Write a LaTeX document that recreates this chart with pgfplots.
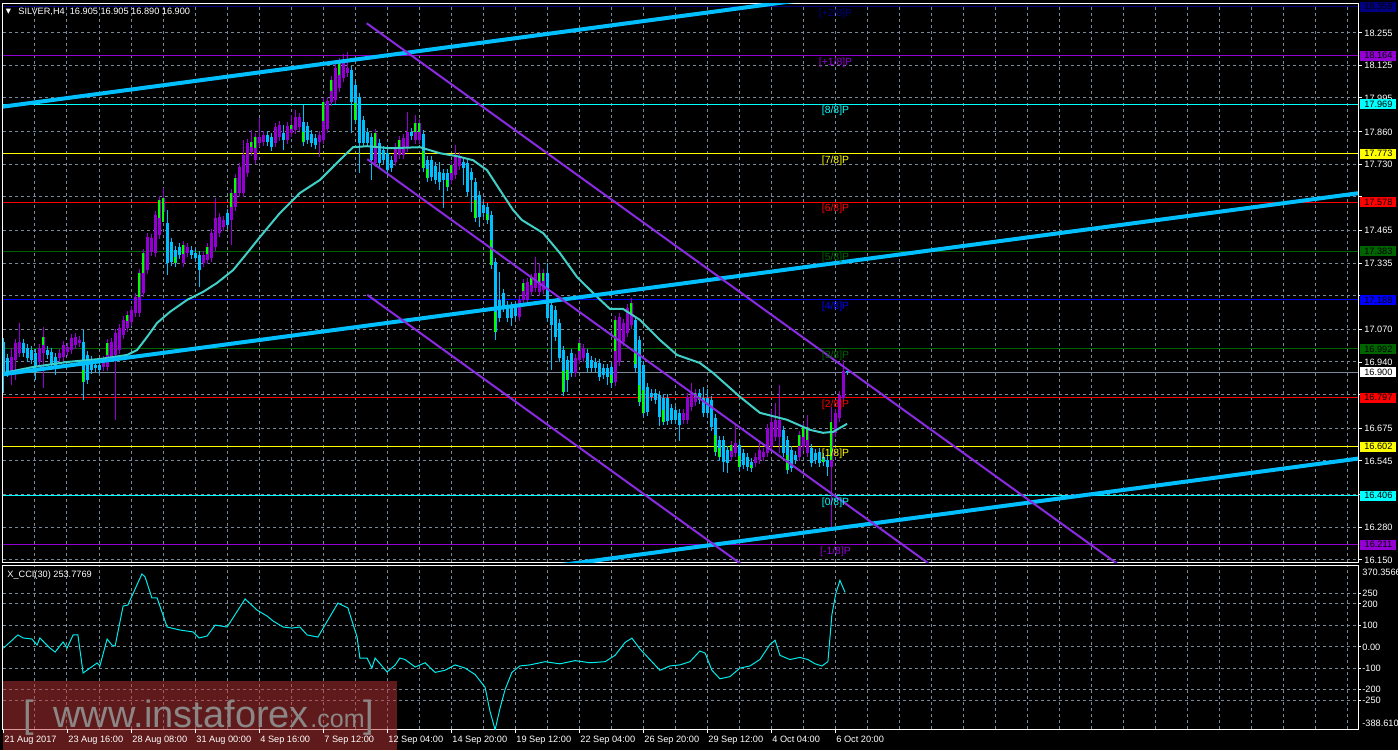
\documentclass[border=0pt]{standalone}
\usepackage{pgfplots}
\pgfplotsset{compat=1.18}
\usepackage{pgfplotstable}
\usepackage{fontspec}
\setmainfont{Liberation Sans}
\newfontfamily\dejavu{DejaVu Sans}

\definecolor{mtbull}{RGB}{148,0,211}
\definecolor{mtbear}{RGB}{0,191,255}
\definecolor{mtlime}{RGB}{0,255,0}
\definecolor{mtgrid}{RGB}{119,136,153}
\definecolor{mttrend}{RGB}{0,191,255}
\definecolor{mtchan}{RGB}{138,43,226}
\definecolor{mtma}{RGB}{64,208,200}
\definecolor{mtcci}{RGB}{0,235,235}
\definecolor{lnavy}{RGB}{0,0,128}
\definecolor{dviolet}{RGB}{148,0,211}
\definecolor{laqua}{RGB}{0,255,255}
\definecolor{lyellow}{RGB}{255,255,0}
\definecolor{lred}{RGB}{255,0,0}
\definecolor{lgreen}{RGB}{0,100,0}
\definecolor{lblue}{RGB}{0,0,255}
\definecolor{lgray}{RGB}{119,136,153}
\definecolor{wmred}{RGB}{190,55,55}
\definecolor{wmgray}{RGB}{140,134,134}

\newcommand\sm{\fontsize{4.6}{5.5}\selectfont}
\newcommand\lv{\fontsize{5.2}{6}\selectfont}

\pgfplotstableread{
b o h l c
0 17.020 17.036 16.816 16.896
1 16.956 16.972 16.880 16.896
2 16.900 16.996 16.848 16.960
3 16.948 17.032 16.868 17.016
4 16.976 17.096 16.960 17.020
5 17.016 17.032 16.960 16.976
6 16.996 17.012 16.940 16.956
7 16.988 17.004 16.932 16.948
8 16.976 16.992 16.868 16.920
9 16.940 17.012 16.924 16.996
10 16.976 17.080 16.836 17.040
11 16.988 17.004 16.952 16.968
12 16.980 16.996 16.912 16.928
13 16.960 16.976 16.888 16.920
14 16.956 16.992 16.940 16.976
15 16.960 17.024 16.944 17.008
16 16.980 17.016 16.964 17.000
17 16.988 17.052 16.972 17.036
18 17.008 17.056 16.992 17.040
19 17.016 17.044 17.000 17.028
20 17.020 17.068 16.788 16.860
21 16.968 16.984 16.852 16.868
22 16.948 16.964 16.892 16.908
23 16.928 16.944 16.900 16.916
24 16.928 16.944 16.892 16.908
25 16.920 16.964 16.904 16.948
26 16.920 17.032 16.904 17.016
27 16.960 17.036 16.944 17.020
28 16.968 17.072 16.708 17.056
29 16.988 17.092 16.972 17.076
30 17.048 17.124 17.032 17.108
31 17.076 17.144 17.060 17.128
32 17.100 17.164 17.084 17.148
33 17.136 17.216 17.120 17.200
34 17.136 17.311 17.120 17.295
35 17.216 17.391 17.200 17.375
36 17.307 17.455 17.291 17.439
37 17.379 17.451 17.363 17.435
38 17.375 17.543 17.359 17.527
39 17.447 17.603 17.431 17.587
40 17.539 17.635 17.523 17.595
41 17.495 17.547 17.287 17.335
42 17.419 17.435 17.323 17.339
43 17.387 17.403 17.319 17.335
44 17.399 17.415 17.351 17.367
45 17.335 17.423 17.319 17.407
46 17.375 17.415 17.359 17.399
47 17.387 17.403 17.351 17.367
48 17.375 17.391 17.343 17.355
49 17.367 17.383 17.239 17.307
50 17.335 17.383 17.319 17.367
51 17.347 17.415 17.331 17.399
52 17.355 17.471 17.339 17.455
53 17.399 17.595 17.383 17.515
54 17.455 17.535 17.439 17.519
55 17.479 17.523 17.463 17.507
56 17.535 17.551 17.471 17.487
57 17.507 17.631 17.407 17.615
58 17.559 17.691 17.543 17.675
59 17.615 17.735 17.599 17.719
60 17.615 17.827 17.599 17.767
61 17.695 17.831 17.679 17.815
62 17.779 17.867 17.763 17.819
63 17.747 17.855 17.731 17.839
64 17.815 17.914 17.799 17.839
65 17.819 17.863 17.803 17.847
66 17.847 17.863 17.803 17.819
67 17.839 17.855 17.782 17.798
68 17.815 17.895 17.798 17.878
69 17.838 17.902 17.822 17.886
70 17.854 17.886 17.786 17.826
71 17.826 17.898 17.810 17.882
72 17.854 17.926 17.838 17.886
73 17.866 17.946 17.850 17.918
74 17.878 17.934 17.862 17.918
75 17.898 17.966 17.802 17.818
76 17.882 17.898 17.810 17.826
77 17.850 17.866 17.798 17.814
78 17.834 17.850 17.790 17.806
79 17.818 17.862 17.758 17.846
80 17.826 17.994 17.810 17.978
81 17.870 17.998 17.854 17.982
82 17.978 18.082 17.962 18.066
83 17.986 18.138 17.970 18.114
84 18.034 18.154 18.018 18.138
85 18.074 18.170 18.058 18.146
86 18.094 18.178 18.078 18.114
87 18.106 18.122 17.854 17.978
88 18.046 18.062 17.890 17.906
89 17.998 18.014 17.694 17.814
90 17.906 17.922 17.798 17.814
91 17.858 17.874 17.798 17.814
92 17.838 17.854 17.666 17.746
93 17.734 17.870 17.718 17.854
94 17.814 17.830 17.718 17.734
95 17.786 17.802 17.730 17.746
96 17.774 17.790 17.690 17.706
97 17.746 17.762 17.698 17.714
98 17.738 17.814 17.722 17.798
99 17.766 17.842 17.750 17.826
100 17.766 17.850 17.750 17.834
101 17.794 17.938 17.778 17.858
102 17.858 17.874 17.826 17.842
103 17.826 17.926 17.810 17.894
104 17.826 17.910 17.810 17.894
105 17.850 17.866 17.698 17.714
106 17.746 17.762 17.658 17.674
107 17.746 17.762 17.662 17.678
108 17.722 17.738 17.650 17.666
109 17.698 17.738 17.626 17.658
110 17.694 17.710 17.555 17.666
111 17.694 17.710 17.622 17.638
112 17.666 17.742 17.650 17.726
113 17.686 17.806 17.670 17.766
114 17.722 17.778 17.706 17.762
115 17.738 17.754 17.646 17.714
116 17.734 17.750 17.603 17.619
117 17.698 17.714 17.539 17.666
118 17.658 17.674 17.499 17.515
119 17.607 17.623 17.479 17.519
120 17.567 17.583 17.519 17.535
121 17.559 17.575 17.491 17.507
122 17.527 17.543 17.311 17.327
123 17.339 17.355 17.028 17.060
124 17.188 17.299 17.100 17.116
125 17.216 17.232 17.140 17.156
126 17.168 17.184 17.100 17.116
127 17.164 17.180 17.084 17.116
128 17.164 17.180 17.108 17.124
129 17.120 17.204 17.104 17.188
130 17.188 17.271 17.172 17.255
131 17.188 17.275 17.172 17.259
132 17.220 17.291 17.204 17.275
133 17.236 17.359 17.220 17.295
134 17.220 17.335 17.204 17.295
135 17.228 17.311 17.212 17.295
136 17.295 17.335 17.100 17.116
137 17.168 17.184 16.908 17.088
138 17.148 17.164 17.024 17.040
139 17.096 17.112 16.940 16.956
140 16.988 17.004 16.804 16.820
141 16.948 16.964 16.820 16.868
142 16.976 16.992 16.880 16.896
143 16.896 16.972 16.880 16.956
144 16.948 17.032 16.932 17.016
145 16.956 17.012 16.940 16.996
146 16.976 16.992 16.900 16.916
147 16.948 16.964 16.900 16.916
148 16.940 16.956 16.900 16.916
149 16.936 16.952 16.864 16.880
150 16.916 16.932 16.872 16.888
151 16.916 16.932 16.848 16.880
152 16.920 16.936 16.836 16.856
153 16.860 17.124 16.844 17.108
154 16.940 17.136 16.924 17.120
155 17.020 17.112 17.004 17.096
156 17.056 17.172 17.040 17.156
157 17.088 17.196 17.072 17.176
158 17.108 17.124 16.900 16.916
159 17.028 17.044 16.765 16.781
160 16.928 16.944 16.721 16.737
161 16.840 16.856 16.725 16.741
162 16.816 16.832 16.785 16.800
163 16.816 16.832 16.773 16.789
164 16.808 16.824 16.685 16.721
165 16.797 16.812 16.689 16.701
166 16.797 16.812 16.689 16.705
167 16.757 16.773 16.693 16.709
168 16.749 16.765 16.693 16.709
169 16.737 16.753 16.625 16.689
170 16.709 16.753 16.693 16.737
171 16.709 16.817 16.693 16.801
172 16.761 16.857 16.745 16.817
173 16.781 16.832 16.765 16.817
174 16.817 16.832 16.773 16.789
175 16.797 16.840 16.721 16.737
176 16.797 16.832 16.721 16.737
177 16.789 16.805 16.665 16.681
178 16.717 16.733 16.565 16.581
179 16.629 16.645 16.545 16.561
180 16.629 16.645 16.501 16.541
181 16.589 16.605 16.497 16.537
182 16.561 16.625 16.545 16.609
183 16.577 16.689 16.561 16.617
184 16.609 16.625 16.505 16.521
185 16.577 16.593 16.513 16.529
186 16.561 16.577 16.505 16.521
187 16.541 16.557 16.501 16.517
188 16.537 16.577 16.521 16.561
189 16.549 16.621 16.533 16.589
190 16.561 16.597 16.545 16.581
191 16.577 16.693 16.561 16.677
192 16.601 16.749 16.585 16.701
193 16.641 16.777 16.625 16.709
194 16.641 16.849 16.577 16.709
195 16.669 16.685 16.561 16.577
196 16.629 16.645 16.493 16.509
197 16.589 16.605 16.501 16.517
198 16.569 16.585 16.533 16.549
199 16.561 16.665 16.545 16.649
200 16.601 16.697 16.585 16.681
201 16.577 16.729 16.561 16.681
202 16.597 16.613 16.521 16.537
203 16.577 16.593 16.533 16.549
204 16.581 16.597 16.521 16.537
205 16.561 16.577 16.525 16.541
206 16.549 16.565 16.485 16.521
207 16.521 16.761 16.282 16.657
208 16.657 16.753 16.641 16.737
209 16.717 16.824 16.701 16.808
210 16.797 16.948 16.781 16.905
211 16.905 16.905 16.890 16.900
}\candles

\pgfplotstableread{
b lo hi
10 17.008 17.040
20 16.860 16.910
26 16.968 17.016
31 17.102 17.128
34 17.200 17.295
35 17.296 17.375
39 17.517 17.587
40 17.500 17.595
43 17.335 17.361
45 17.371 17.407
51 17.373 17.399
57 17.561 17.615
58 17.617 17.675
62 17.799 17.819
63 17.793 17.839
72 17.870 17.886
75 17.818 17.858
80 17.902 17.978
82 18.022 18.066
84 18.086 18.138
88 17.906 17.976
93 17.794 17.854
99 17.796 17.826
103 17.860 17.894
104 17.860 17.894
105 17.714 17.782
106 17.674 17.710
111 17.638 17.666
112 17.696 17.726
118 17.515 17.587
121 17.507 17.533
122 17.327 17.427
123 17.060 17.140
130 17.222 17.255
132 17.248 17.275
134 17.258 17.295
135 17.262 17.295
140 16.820 16.904
141 16.868 16.908
144 16.982 17.016
152 16.856 16.888
153 16.984 17.108
157 17.132 17.176
158 16.930 16.980
159 16.781 16.850
160 16.737 16.830
165 16.701 16.749
173 16.799 16.817
174 16.789 16.803
178 16.581 16.649
179 16.561 16.595
182 16.585 16.609
184 16.521 16.565
187 16.517 16.529
196 16.509 16.569
199 16.605 16.649
200 16.641 16.681
201 16.629 16.681
205 16.541 16.551
207 16.550 16.700
}\limetab

\pgfplotstableread{
b v
-0.05 16.896
7.4 16.920
15.9 16.940
24.1 16.952
30.9 16.968
33.4 16.988
35.9 17.040
38.4 17.096
41.6 17.140
45.9 17.188
49.9 17.220
53.4 17.256
57.4 17.307
60.9 17.375
64.1 17.439
69.1 17.535
74.1 17.615
79.1 17.667
84.1 17.747
87.4 17.798
90.9 17.802
96.6 17.794
104.1 17.798
109.1 17.774
113.4 17.762
117.4 17.746
120.9 17.706
124.1 17.627
127.4 17.547
129.6 17.507
134.9 17.455
139.1 17.375
143.4 17.279
148.4 17.200
151.6 17.152
154.9 17.152
159.1 17.108
164.1 17.028
168.4 16.968
174.1 16.936
177.4 16.896
184.1 16.801
189.1 16.737
195.9 16.709
201.6 16.669
204.9 16.657
207.4 16.661
210.9 16.693
}\matab

\pgfplotstableread{
b v
-0.05 -7
3.6 55
4.9 41
7.1 36
8.4 8
9.1 41
11.6 -6
12.9 -25
14.9 22
15.9 -6
17.4 55
18.6 55
19.9 -123
23.4 -76
24.1 -90
25.9 36
27.1 8
27.9 3
29.9 190
31.1 195
34.6 340
35.4 326
37.1 228
38.4 228
40.9 92
44.1 78
47.4 69
48.9 41
50.9 50
52.9 101
55.9 92
60.4 223
63.4 171
65.9 143
67.4 120
69.9 92
72.1 87
74.1 92
75.9 55
78.6 45
83.6 204
86.1 181
88.4 45
89.1 -53
90.9 -53
92.1 -100
92.9 -53
95.9 -118
97.9 -86
99.1 -53
100.4 -60
102.9 -95
105.4 -75
107.9 -120
110.4 -110
112.9 -85
115.4 -100
117.9 -130
120.4 -190
121.6 -300
122.9 -388
124.1 -290
125.4 -200
127.1 -120
129.1 -90
131.6 -85
135.4 -70
139.1 -80
142.9 -65
146.6 -75
150.4 -70
152.9 -40
155.4 20
157.1 40
159.1 -10
161.6 -60
164.1 -110
166.6 -90
169.1 -85
171.6 -70
174.1 -20
175.4 -30
177.1 -110
179.1 -150
181.6 -140
184.1 -100
186.6 -90
189.1 -60
191.6 10
192.9 30
194.1 -40
196.6 -60
199.1 -50
201.1 -60
202.9 -80
204.6 -90
206.1 -70
207.1 150
208.1 250
209.1 310
210.4 254
}\ccitab

\pgfplotsset{
  mtaxis/.style={
    scale only axis, anchor=south west, width=677.5pt,
    xmin=-0.125, xmax=338.625,
    axis line style={white, line width=0.5pt},
    tick style={draw=none},
    xticklabels={}, yticklabels={},
    xmajorgrids, ymajorgrids,
    grid style={mtgrid, line width=0.5pt, dash pattern=on 1.5pt off 1.5pt},
    xtick={7.875,15.875,...,335.875},
  },
  candle/.style 2 args={draw=none, mark=none, forget plot,
    restrict expr to domain={\thisrow{c}-\thisrow{o}}{#1},
    error bars/.cd, y dir=both, y explicit, error mark=none,
    error bar style={draw=#2, solid, line width=0.5pt}},
  body/.style 2 args={draw=none, mark=none, forget plot,
    restrict expr to domain={\thisrow{c}-\thisrow{o}}{#1},
    error bars/.cd, y dir=both, y explicit, error mark=none,
    error bar style={draw=#2, solid, line width=1.5pt}},
}

\begin{document}
\begin{tikzpicture}[x=0.5pt,y=-0.5pt]
\fill[black] (0,0) rectangle (1398,750);

% ---------------- main price panel ----------------
\begin{axis}[mtaxis, at={(1.5pt,-281pt)}, height=279.5pt,
  ymin=16.141, ymax=18.374,
  ytick={18.255,18.125,17.995,17.860,17.730,17.600,17.465,17.335,17.205,17.070,16.940,16.810,16.675,16.545,16.410,16.280,16.150}]
% Murrey levels
\addplot[lnavy, line width=0.5pt] coordinates {(-0.125,18.359) (338.625,18.359)};
\addplot[dviolet, line width=0.5pt] coordinates {(-0.125,18.164) (338.625,18.164)};
\addplot[laqua, line width=0.5pt] coordinates {(-0.125,17.969) (338.625,17.969)};
\addplot[lyellow, line width=0.5pt] coordinates {(-0.125,17.773) (338.625,17.773)};
\addplot[lred, line width=0.5pt] coordinates {(-0.125,17.578) (338.625,17.578)};
\addplot[lgreen, line width=0.5pt] coordinates {(-0.125,17.383) (338.625,17.383)};
\addplot[lblue, line width=0.5pt] coordinates {(-0.125,17.188) (338.625,17.188)};
\addplot[lgreen, line width=0.5pt] coordinates {(-0.125,16.992) (338.625,16.992)};
\addplot[lgray, line width=0.5pt] coordinates {(-0.125,16.900) (338.625,16.900)};
\addplot[lred, line width=0.5pt] coordinates {(-0.125,16.797) (338.625,16.797)};
\addplot[lyellow, line width=0.5pt] coordinates {(-0.125,16.602) (338.625,16.602)};
\addplot[laqua, line width=0.5pt] coordinates {(-0.125,16.406) (338.625,16.406)};
\addplot[dviolet, line width=0.5pt] coordinates {(-0.125,16.211) (338.625,16.211)};
% candles: wicks then bodies
\addplot[candle={0:10}{mtbull}] table[x=b, y expr={(\thisrow{h}+\thisrow{l})/2}, y error expr={(\thisrow{h}-\thisrow{l})/2}] {\candles};
\addplot[candle={-10:-0.0001}{mtbear}] table[x=b, y expr={(\thisrow{h}+\thisrow{l})/2}, y error expr={(\thisrow{h}-\thisrow{l})/2}] {\candles};
\addplot[body={0:10}{mtbull}] table[x=b, y expr={(\thisrow{o}+\thisrow{c})/2}, y error expr={max(abs(\thisrow{c}-\thisrow{o})/2,0.0015)}] {\candles};
\addplot[body={-10:-0.0001}{mtbear}] table[x=b, y expr={(\thisrow{o}+\thisrow{c})/2}, y error expr={max(abs(\thisrow{c}-\thisrow{o})/2,0.0015)}] {\candles};
% lime overlay segments
\addplot[draw=none, mark=none, forget plot, error bars/.cd, y dir=both, y explicit, error mark=none,
  error bar style={draw=mtlime, solid, line width=1pt}]
  table[x expr={\thisrow{b}-0.12}, y expr={(\thisrow{lo}+\thisrow{hi})/2}, y error expr={(\thisrow{hi}-\thisrow{lo})/2}] {\limetab};
% moving average
\addplot[mtma, line width=1pt] table[x=b, y=v] {\matab};
% trend lines
\addplot[mttrend, line width=2pt] coordinates {(-0.125,17.960) (338.625,18.683)};
\addplot[mttrend, line width=2pt] coordinates {(-0.125,16.891) (338.625,17.614)};
\addplot[mttrend, line width=2pt] coordinates {(-0.125,15.831) (338.625,16.554)};
% falling channel
\addplot[mtchan, line width=1pt] coordinates {(90.8,18.293) (280,16.116)};
\addplot[mtchan, line width=1pt] coordinates {(90.95,17.750) (240,16.035)};
\addplot[mtchan, line width=1pt] coordinates {(90.95,17.208) (200,15.953)};
\end{axis}

% ---------------- CCI panel ----------------
\begin{axis}[mtaxis, at={(1.5pt,-364.5pt)}, height=82pt,
  ymin=-384.6, ymax=381.8,
  ytick={-250,-200,-100,0,100,200,250}]
\addplot[mtcci, line width=0.5pt] table[x=b, y=v] {\ccitab};
\end{axis}

% ---------------- watermark band ----------------
\fill[wmred, opacity=0.5] (3,681) rectangle (397,750);

% ---------------- price scale ----------------
\foreach \yy in {32.8, 65.3, 97.9, 131.7, 164.2, 196.8, 230.6, 263.1, 295.6, 329.4, 362.0, 394.5, 428.3, 460.9, 494.7, 527.2, 559.8}{
  \draw[white, line width=0.5pt] (1358,\yy) -- (1362,\yy);
}
\foreach \val/\yy in {18.255/32.8, 18.125/65.3, 17.995/97.9, 17.860/131.7, 17.730/164.2, 17.465/230.6, 17.335/263.1, 17.070/329.4, 16.940/362.0, 16.675/428.3, 16.545/460.9, 16.280/527.2, 16.150/559.8}{
  \node[anchor=base west, inner sep=0, text=white, font=\sm] at (1364,\yy+3.3) {\val};
}
\foreach \val/\yy/\col in {18.359/6.8/lnavy, 18.164/55.6/dviolet, 17.969/104.4/laqua, 17.773/153.5/lyellow, 17.578/202.3/lred, 17.383/251.1/lgreen, 17.188/299.9/lblue, 16.992/349.0/lgreen, 16.900/372.0/white, 16.797/397.8/lred, 16.602/446.6/lyellow, 16.406/495.7/laqua, 16.211/544.5/dviolet}{
  \node[fill=\col, inner sep=0, minimum width=18pt, minimum height=5pt, anchor=west, text=black, font=\sm] at (1360,\yy) {\val};
}

% CCI scale
\foreach \val/\yy in {250/593.2, 200/603.9, 100/625.3, 0.00/646.7, -100/668.1, -200/689.5, -250/700.2}{
  \draw[white, line width=0.5pt] (1358,\yy) -- (1361,\yy);
  \node[anchor=base west, inner sep=0, text=white, font=\sm] at (1362,\yy+3.3) {\val};
}
\node[anchor=base west, inner sep=0, text=white, font=\sm] at (1362,575.3) {370.3566};
\node[anchor=base west, inner sep=0, text=white, font=\sm] at (1362,726) {-388.610};

% time scale
\foreach \k/\lab in {0/21 Aug 2017, 1/23 Aug 16:00, 2/28 Aug 08:00, 3/31 Aug 00:00, 4/4 Sep 16:00, 5/7 Sep 12:00, 6/12 Sep 04:00, 7/14 Sep 20:00, 8/19 Sep 12:00, 9/22 Sep 04:00, 10/26 Sep 20:00, 11/29 Sep 12:00, 12/4 Oct 04:00, 13/6 Oct 20:00}{
  \draw[white, line width=0.5pt] ({3+64*\k},729) -- ({3+64*\k},733);
  \node[anchor=base west, inner sep=0, text=white, font=\sm] at ({4+64*\k},742) {\lab};
}

% Murrey labels
\node[anchor=base, inner sep=0, text=lnavy, font=\lv] at (835.5,16.3) {[+2/8]P};
\node[anchor=base, inner sep=0, text=dviolet, font=\lv] at (835.5,65.1) {[+1/8]P};
\node[anchor=base, inner sep=0, text=laqua, font=\lv] at (835.5,113.9) {[8/8]P};
\node[anchor=base, inner sep=0, text=lyellow, font=\lv] at (835.5,163.0) {[7/8]P};
\node[anchor=base, inner sep=0, text=lred, font=\lv] at (835.5,211.8) {[6/8]P};
\node[anchor=base, inner sep=0, text=lgreen, font=\lv] at (835.5,260.6) {[5/8]P};
\node[anchor=base, inner sep=0, text=lblue, font=\lv] at (835.5,309.4) {[4/8]P};
\node[anchor=base, inner sep=0, text=lgreen, font=\lv] at (835.5,358.5) {[3/8]P};
\node[anchor=base, inner sep=0, text=lred, font=\lv] at (835.5,407.3) {[2/8]P};
\node[anchor=base, inner sep=0, text=lyellow, font=\lv] at (835.5,456.1) {[1/8]P};
\node[anchor=base, inner sep=0, text=laqua, font=\lv] at (835.5,505.2) {[0/8]P};
\node[anchor=base, inner sep=0, text=dviolet, font=\lv] at (835.5,554.0) {[-1/8]P};

% titles
\node[anchor=base west, inner sep=0, text=white, font={\dejavu\fontsize{3.4}{4}\selectfont}] at (5.5,13) {▼};
\node[anchor=base west, inner sep=0, text=white, font=\sm] at (18,14) {SILVER,H4\ \ 16.905 16.905 16.890 16.900};
\node[anchor=base west, inner sep=0, text=white, font=\sm] at (7,577.3) {X\_CCI(30) 253.7769};

% watermark text
\node[anchor=base west, inner sep=0, text=wmgray, font=\fontsize{19}{19}\selectfont] at (23,727) {[};
\node[anchor=base west, inner sep=0, text=wmgray, font=\fontsize{19}{19}\selectfont] at (53,727) {www.instaforex};
\node[anchor=base west, inner sep=0, text=wmgray, font=\fontsize{12.5}{12.5}\selectfont] at (310,727) {.com};
\node[anchor=base west, inner sep=0, text=wmgray, font=\fontsize{19}{19}\selectfont] at (363,727) {]};

\pgfresetboundingbox
\useasboundingbox (0,0) rectangle (1398,750);
\end{tikzpicture}
\end{document}
